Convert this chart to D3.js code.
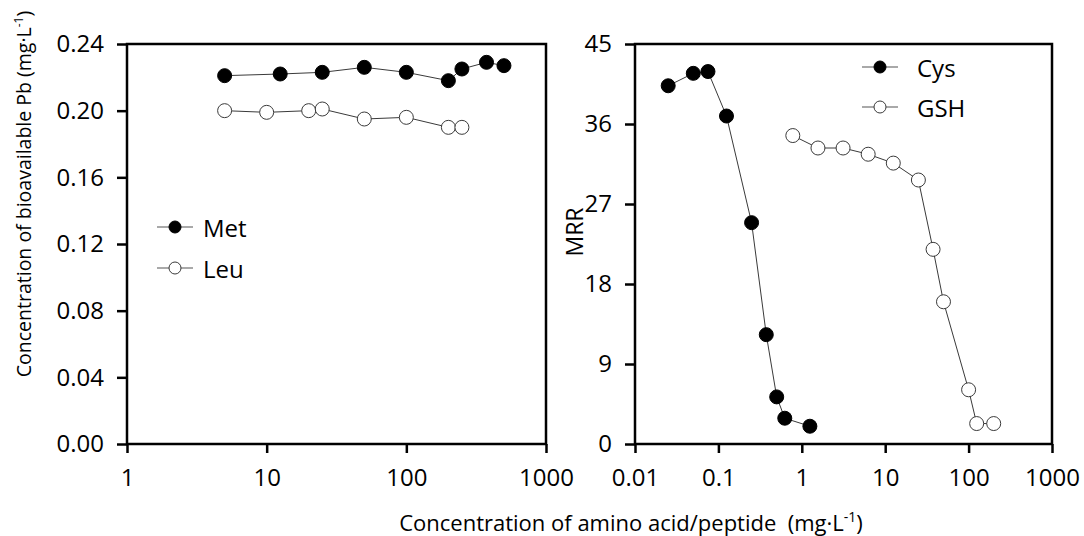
<!DOCTYPE html>
<html>
<head>
<meta charset="utf-8">
<script src="https://cdn.jsdelivr.net/npm/d3@7"></script>
<style>
  body { margin: 0; background: #fff; }
  svg { display: block; font-family: "Open Sans", sans-serif; }
</style>
</head>
<body>
<svg id="chart" width="1084" height="536"></svg>
<script>
// left panel: bioavailable Pb vs amino acid concentration
const metX = [5, 12.5, 25, 50, 100, 200, 250, 375, 500];
const metY = [0.221, 0.222, 0.223, 0.226, 0.223, 0.218, 0.225, 0.229, 0.227];
const leuX = [5, 10, 20, 25, 50, 100, 200, 250];
const leuY = [0.200, 0.199, 0.200, 0.201, 0.195, 0.196, 0.190, 0.190];

// right panel: MRR vs amino acid/peptide concentration
const cysX = [0.025, 0.05, 0.075, 0.125, 0.25, 0.375, 0.5, 0.625, 1.25];
const cysY = [40.3, 41.7, 41.9, 36.9, 24.9, 12.3, 5.3, 2.9, 2.0];
const gshX = [0.78, 1.5625, 3.125, 6.25, 12.5, 25, 37.5, 50, 100, 125, 200];
const gshY = [34.7, 33.3, 33.3, 32.6, 31.6, 29.7, 21.9, 16.0, 6.1, 2.3, 2.3];

const leftXTicks = [1, 10, 100, 1000];
const leftYTicks = [0, 0.04, 0.08, 0.12, 0.16, 0.20, 0.24];
const rightXTicks = [0.01, 0.1, 1, 10, 100, 1000];
const rightYTicks = [0, 9, 18, 27, 36, 45];

const svg = d3.select('#chart');
const lineColor = '#3a3a3a';
const labelSize = '24px';

function drawPanel(p) {
    const g = svg.append('g');
    const x = d3.scaleLog().domain(p.xDomain).range([p.left, p.right]);
    const y = d3.scaleLinear().domain(p.yDomain).range([p.bottom, p.top]);

    // axes
    const xAxis = g.append('g')
        .attr('transform', `translate(0,${p.bottom})`)
        .call(d3.axisBottom(x).tickValues(p.xTicks).tickFormat(d => String(d))
            .tickSize(9).tickPadding(16));
    const yAxis = g.append('g')
        .attr('transform', `translate(${p.left},0)`)
        .call(d3.axisLeft(y).tickValues(p.yTicks).tickFormat(p.yFormat)
            .tickSize(10).tickPadding(13));

    [xAxis, yAxis].forEach(a => {
        a.select('.domain').remove();
        a.selectAll('line').attr('stroke', '#000').attr('stroke-width', 2.5);
        a.selectAll('text').attr('fill', '#000').style('font-size', labelSize)
            .style('font-family', '"Open Sans", sans-serif');
    });

    // frame
    g.append('rect')
        .attr('x', p.left).attr('y', p.top)
        .attr('width', p.right - p.left).attr('height', p.bottom - p.top)
        .attr('fill', 'none').attr('stroke', '#000').attr('stroke-width', 2.5);

    // series
    const line = d3.line().x(d => x(d[0])).y(d => y(d[1]));
    p.series.forEach(s => {
        const pts = s.xs.map((v, i) => [v, s.ys[i]]);
        g.append('path').datum(pts)
            .attr('d', line)
            .attr('fill', 'none').attr('stroke', lineColor).attr('stroke-width', 1);
        g.selectAll(null).data(pts).enter().append('circle')
            .attr('cx', d => x(d[0])).attr('cy', d => y(d[1]))
            .attr('r', 7)
            .attr('fill', s.filled ? '#000' : '#fff')
            .attr('stroke', s.filled ? '#000' : lineColor).attr('stroke-width', 1);
    });

    // legend
    p.series.forEach((s, i) => {
        const ly = p.legend.y + i * p.legend.gap;
        g.append('line')
            .attr('x1', p.legend.x).attr('x2', p.legend.x + 36)
            .attr('y1', ly).attr('y2', ly)
            .attr('stroke', '#555').attr('stroke-width', 1.2);
        g.append('circle')
            .attr('cx', p.legend.x + 18).attr('cy', ly).attr('r', 6)
            .attr('fill', s.filled ? '#000' : '#fff')
            .attr('stroke', s.filled ? '#000' : lineColor).attr('stroke-width', 1);
        g.append('text')
            .attr('x', p.legend.x + p.legend.textGap).attr('y', ly)
            .attr('dominant-baseline', 'central')
            .style('font-size', labelSize)
            .text(s.name);
    });
}

drawPanel({
    left: 127, right: 546, top: 44, bottom: 444,
    xDomain: [1, 1000], yDomain: [0, 0.24],
    xTicks: leftXTicks, yTicks: leftYTicks, yFormat: d3.format('.2f'),
    series: [
        { name: 'Met', xs: metX, ys: metY, filled: true },
        { name: 'Leu', xs: leuX, ys: leuY, filled: false }
    ],
    legend: { x: 157, y: 227, gap: 41, textGap: 46 }
});

drawPanel({
    left: 635, right: 1052, top: 44, bottom: 444,
    xDomain: [0.01, 1000], yDomain: [0, 45],
    xTicks: rightXTicks, yTicks: rightYTicks, yFormat: d3.format('d'),
    series: [
        { name: 'Cys', xs: cysX, ys: cysY, filled: true },
        { name: 'GSH', xs: gshX, ys: gshY, filled: false }
    ],
    legend: { x: 862, y: 67, gap: 40, textGap: 55 }
});

// axis titles
const yTitle = svg.append('text')
    .attr('transform', 'translate(31,194) rotate(-90)')
    .attr('text-anchor', 'middle')
    .style('font-size', '19.5px');
yTitle.append('tspan').text('Concentration of bioavailable Pb (mg·L');
yTitle.append('tspan').attr('baseline-shift', 'super').style('font-size', '12px').text('-1');
yTitle.append('tspan').text(')');

svg.append('text')
    .attr('transform', 'translate(583,232) rotate(-90)')
    .attr('text-anchor', 'middle')
    .style('font-size', '23px')
    .text('MRR');

const xTitle = svg.append('text')
    .attr('x', 631).attr('y', 531)
    .attr('text-anchor', 'middle')
    .style('font-size', '22px')
    .style('white-space', 'pre');
xTitle.append('tspan').text('Concentration of amino acid/peptide  (mg·L');
xTitle.append('tspan').attr('baseline-shift', 'super').style('font-size', '14px').text('-1');
xTitle.append('tspan').text(')');
</script>
</body>
</html>
